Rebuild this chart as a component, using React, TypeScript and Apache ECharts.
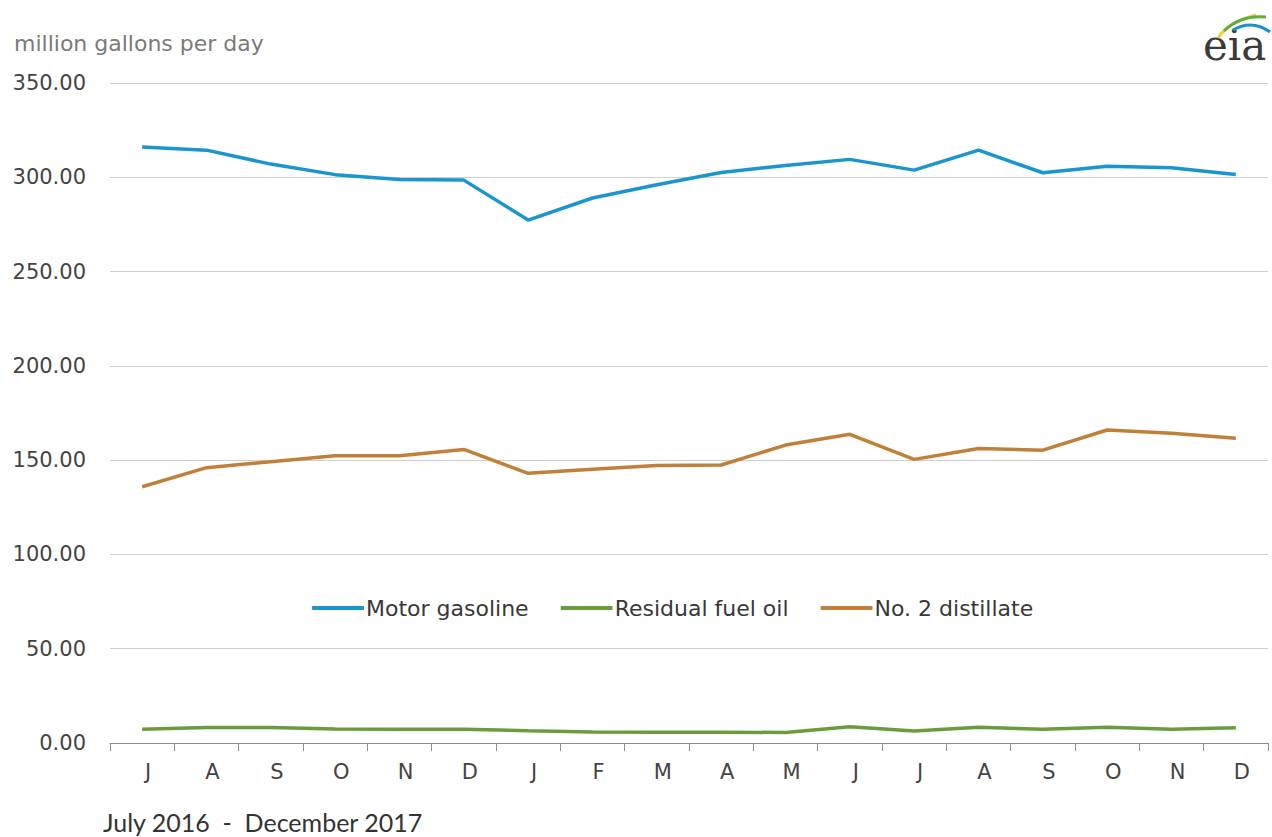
import React, { useEffect, useRef } from "react";
import * as echarts from "echarts";

const months = ["J", "A", "S", "O", "N", "D", "J", "F", "M", "A", "M", "J", "J", "A", "S", "O", "N", "D"];
const motorGasoline = [316, 314.4, 307, 301.4, 298.8, 298.5, 277.3, 289, 296, 302.5, 306.3, 309.5, 303.8, 314.4, 302.4, 305.9, 305, 301.5];
const residualFuelOil = [7.3, 8.2, 8.2, 7.4, 7.3, 7.3, 6.5, 5.8, 5.7, 5.7, 5.6, 8.6, 6.4, 8.3, 7.3, 8.3, 7.3, 8.1];
const no2Distillate = [135.9, 146, 149.2, 152.3, 152.3, 155.7, 143, 145.2, 147.2, 147.4, 158, 163.7, 150.4, 156.2, 155.3, 166, 164.2, 161.6];
const yTicks = [0, 50, 100, 150, 200, 250, 300, 350];

const COLORS = { gas: "#1a95d0", resid: "#6b9b3d", dist: "#c0803a" };

export default function App() {
  const ref = useRef<HTMLDivElement>(null);
  useEffect(() => {
    if (!ref.current) return;
    const chart = echarts.init(ref.current, null, { renderer: "svg" });
    const font = "'DejaVu Sans', sans-serif";
    chart.setOption({
      animation: false,
      backgroundColor: "#ffffff",
      grid: { left: 110, right: 4, top: 83, bottom: 94, containLabel: false },
      xAxis: {
        type: "category",
        data: months,
        boundaryGap: true,
        axisLine: { show: true, lineStyle: { color: "#8c8c8c", width: 1 } },
        axisTick: { show: true, length: 8, lineStyle: { color: "#8c8c8c" } },
        axisLabel: { color: "#444444", fontSize: 21, fontFamily: font, margin: 18, interval: 0, padding: [0, 0, 0, 12] },
        splitLine: { show: false },
      },
      yAxis: {
        type: "value",
        min: yTicks[0],
        max: yTicks[yTicks.length - 1],
        interval: 50,
        axisLine: { show: false },
        axisTick: { show: false },
        axisLabel: {
          color: "#444444",
          fontSize: 21,
          fontFamily: font,
          margin: 24,
          formatter: (v: number) => v.toFixed(2),
        },
        splitLine: { show: true, lineStyle: { color: "#cfcfcf", width: 1 } },
      },
      legend: {
        left: 307,
        top: 592,
        itemGap: 32,
        itemWidth: 52,
        itemHeight: 4,
        icon: "roundRect",
        textStyle: { color: "#383838", fontSize: 22, fontFamily: font, padding: [0, 0, 0, -3] },
        data: ["Motor gasoline", "Residual fuel oil", "No. 2 distillate"],
      },
      series: [
        {
          name: "Motor gasoline",
          type: "line",
          data: motorGasoline,
          showSymbol: false,
          symbol: "none",
          lineStyle: { color: COLORS.gas, width: 3.5 },
          itemStyle: { color: COLORS.gas },
        },
        {
          name: "Residual fuel oil",
          type: "line",
          data: residualFuelOil,
          showSymbol: false,
          symbol: "none",
          lineStyle: { color: COLORS.resid, width: 3.5 },
          itemStyle: { color: COLORS.resid },
        },
        {
          name: "No. 2 distillate",
          type: "line",
          data: no2Distillate,
          showSymbol: false,
          symbol: "none",
          lineStyle: { color: COLORS.dist, width: 3.5 },
          itemStyle: { color: COLORS.dist },
        },
      ],
      graphic: [
        {
          type: "text",
          left: 14,
          top: 32,
          style: { text: "million gallons per day", fill: "#7a7a7a", fontSize: 22, fontFamily: font },
        },
        {
          type: "text",
          left: 103,
          top: 809,
          style: { text: "July 2016  -  December 2017", fill: "#333333", fontSize: 25, fontFamily: "Lato, sans-serif" },
        },
        {
          type: "text",
          left: 1203,
          top: 24,
          style: { text: "eia", fill: "#3a3a3a", fontSize: 42, fontFamily: "'DejaVu Serif', 'Liberation Serif', serif" },
        },
        {
          type: "bezierCurve",
          shape: { x1: 1218, y1: 38, cpx1: 1228, cpy1: 22, x2: 1256, y2: 15 },
          style: { stroke: "#e6d23a", lineWidth: 3, fill: "none" },
        },
        {
          type: "bezierCurve",
          shape: { x1: 1224, y1: 31, cpx1: 1240, cpy1: 15, x2: 1266, y2: 17 },
          style: { stroke: "#5fae3c", lineWidth: 3, fill: "none" },
        },
        {
          type: "bezierCurve",
          shape: { x1: 1233, y1: 30, cpx1: 1252, cpy1: 19, x2: 1270, y2: 32 },
          style: { stroke: "#1c8fcc", lineWidth: 3, fill: "none" },
        },
      ],
    });
    return () => chart.dispose();
  }, []);
  return <div ref={ref} style={{ position: "absolute", left: 0, top: 0, width: 1272, height: 837 }} />;
}
